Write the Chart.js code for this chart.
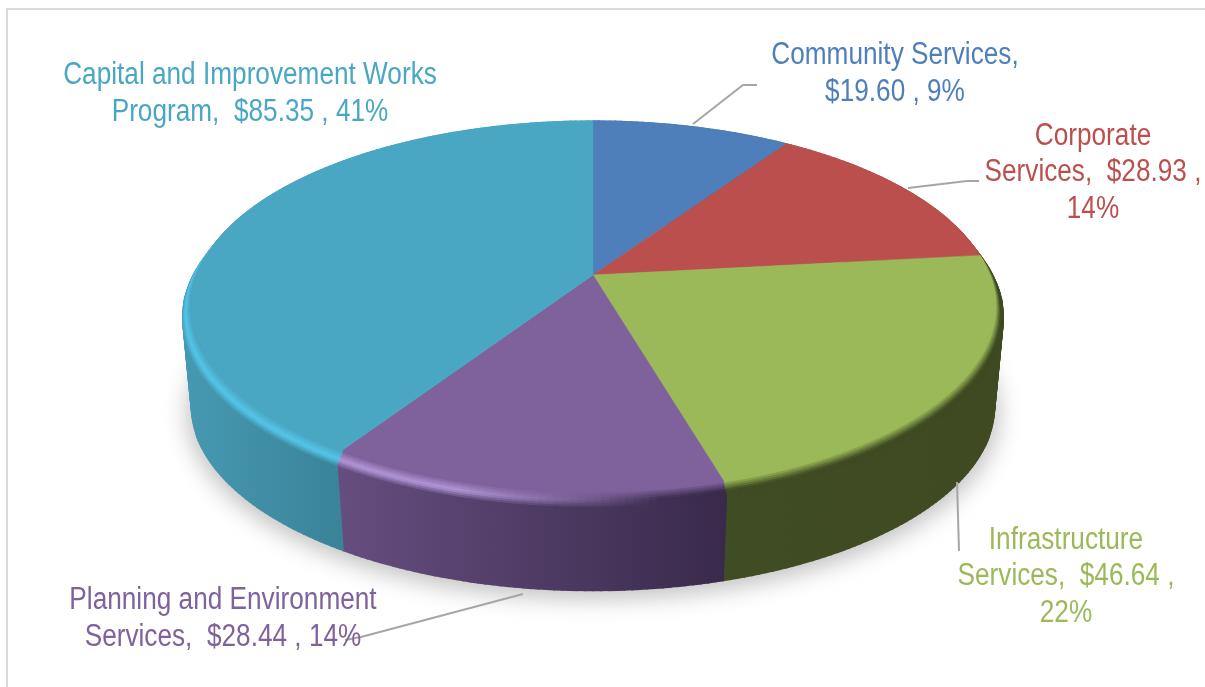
<!DOCTYPE html>
<html>
<head>
<meta charset="utf-8">
<style>
  html, body { margin: 0; padding: 0; background: #fff; overflow: hidden; }
  #frame { position: absolute; left: 6px; top: 8px; width: 1300px; height: 800px; border: 2px solid #d9d9d9; }
  #chart { position: absolute; left: 0; top: 0; }
</style>
<script src="https://cdn.jsdelivr.net/npm/chart.js@4"></script>
</head>
<body>
<div id="frame"></div>
<canvas id="chart" width="1205" height="687"></canvas>
<script>
const categories = ['Community Services', 'Corporate Services', 'Infrastructure Services', 'Planning and Environment Services', 'Capital and Improvement Works Program'];
const values = [19.60, 28.93, 46.64, 28.44, 85.35];
const labelLines = [
  ['Community Services,', '$19.60 , 9%'],
  ['Corporate', 'Services,  $28.93 ,', '14%'],
  ['Infrastructure', 'Services,  $46.64 ,', '22%'],
  ['Planning and Environment', 'Services,  $28.44 , 14%'],
  ['Capital and Improvement Works', 'Program,  $85.35 , 41%']
];
const colors = ['#4e7fba', '#bb4f4d', '#9bb959', '#7f619c', '#4aa7c3'];

// layout of the tilted pie
const CX = 593, CY = 275, RX = 396, RY = 179.5, TILT = 0.165;
const BEVEL_R = 1.021, BEVEL_Z = 11, BOTTOM_Z = 100.5;

// side colour runs left to right across each slice: [x0, colour0, x1, colour1]
const sideShade = [
  [600, '#3f6696', 800, '#3f6696'],
  [800, '#8a3a38', 1000, '#8a3a38'],
  [720, '#404c23', 1000, '#3f4a22'],
  [335, '#664e80', 725, '#392a4b'],
  [185, '#4699b2', 340, '#3a8399']
];
const rimLight = ['#7fb0e8', '#e08a88', '#c4e27e', '#b397d8', '#55c6ea'];

// where each label sits: centre x and the baselines
const labelPos = [
  { x: 895, y: [64, 101] },
  { x: 1093, y: [145, 181, 218] },
  { x: 1066, y: [549, 585, 622] },
  { x: 223, y: [609, 646] },
  { x: 250, y: [84, 121] }
];
const leaders = [
  [[693, 124], [743, 85], [757, 85]],
  [[908, 188], [967, 181], [979, 181]],
  [[957, 482], [959, 551]],
  [[523, 594], [361, 637], [345, 640]]
];

function project(angle, r, z) {
  const u = r * Math.cos(angle), v = r * Math.sin(angle);
  const w = 1 - TILT * v;
  return [CX + RX * u / w, CY + RY * v / w + z];
}

function hex(c) {
  return [1, 3, 5].map(i => parseInt(c.substr(i, 2), 16));
}
function mix(a, b, t) {
  t = Math.max(0, Math.min(1, t));
  const p = hex(a), q = hex(b);
  const out = p.map((x, i) => Math.round(x + (q[i] - x) * t));
  return '#' + out.map(x => x.toString(16).padStart(2, '0')).join('');
}
function sideColor(i, x) {
  const s = sideShade[i];
  return mix(s[1], s[3], (x - s[0]) / (s[2] - s[0]));
}

function band(ctx, a0, a1, r0, z0, r1, z1, color, width) {
  const p = [project(a0, r0, z0), project(a1, r0, z0), project(a1, r1, z1), project(a0, r1, z1)];
  ctx.fillStyle = color;
  ctx.strokeStyle = color;
  ctx.lineWidth = width;
  ctx.beginPath();
  ctx.moveTo(p[0][0], p[0][1]);
  for (let k = 1; k < 4; k++) ctx.lineTo(p[k][0], p[k][1]);
  ctx.closePath();
  ctx.fill();
  ctx.stroke();
}

function drawWall(ctx, arc, i) {
  const s = sideShade[i];
  const grad = ctx.createLinearGradient(s[0], 0, s[2], 0);
  grad.addColorStop(0, s[1]);
  grad.addColorStop(1, s[3]);
  const n = Math.ceil((arc.endAngle - arc.startAngle) * 60);
  const step = (arc.endAngle - arc.startAngle) / n;
  for (let k = 0; k < n; k++) {
    const a0 = arc.startAngle + k * step;
    band(ctx, a0, a0 + step, BEVEL_R, BEVEL_Z, 1, BOTTOM_Z, grad, 1.6);
  }
}

const pie3d = {
  id: 'pie3d',
  beforeDatasetsDraw(chart) {
    const ctx = chart.ctx;
    const arcs = chart.getDatasetMeta(0).data;

    // soft shadow under the disc
    ctx.save();
    ctx.filter = 'blur(11px)';
    ctx.fillStyle = '#c4c4c4';
    ctx.beginPath();
    for (let a = 0; a < 360; a += 3) {
      const p = project(a * Math.PI / 180, 1.012, BOTTOM_Z + 6);
      ctx.lineTo(p[0], p[1]);
    }
    ctx.closePath();
    ctx.fill();
    ctx.restore();

    arcs.forEach((arc, i) => drawWall(ctx, arc, i));

    // rounded rim, outer rings first so the inner ones sit on top
    const steps = 8;
    for (let j = steps - 1; j >= 0; j--) {
      const t = j / steps, t1 = (j + 1) / steps;
      arcs.forEach((arc, i) => {
        const n = Math.ceil((arc.endAngle - arc.startAngle) * 60);
        const step = (arc.endAngle - arc.startAngle) / n;
        for (let s = 0; s < n; s++) {
          const a0 = arc.startAngle + s * step, a1 = a0 + step;
          const x = project(a0 + step / 2, 1, 0)[0];
          const side = sideColor(i, x);
          const crest = mix(side, rimLight[i], (660 - x) / 200);
          const c = t < 0.55 ? mix(colors[i], crest, t / 0.55) : mix(crest, side, (t - 0.55) / 0.45);
          band(ctx, a0, a1, 1 + (BEVEL_R - 1) * t, BEVEL_Z * t, 1 + (BEVEL_R - 1) * t1, BEVEL_Z * t1, c, 1.2);
        }
      });
    }

    // flat top face
    arcs.forEach((arc, i) => {
      ctx.fillStyle = colors[i];
      ctx.strokeStyle = colors[i];
      ctx.lineWidth = 0.5;
      ctx.beginPath();
      ctx.moveTo(CX, CY);
      const n = Math.ceil((arc.endAngle - arc.startAngle) * 60);
      for (let s = 0; s <= n; s++) {
        const p = project(arc.startAngle + (arc.endAngle - arc.startAngle) * s / n, 1, 0);
        ctx.lineTo(p[0], p[1]);
      }
      ctx.closePath();
      ctx.fill();
      ctx.stroke();
    });

    // leader lines
    ctx.strokeStyle = '#a6a6a6';
    ctx.lineWidth = 2;
    leaders.forEach(line => {
      ctx.beginPath();
      line.forEach(p => ctx.lineTo(p[0], p[1]));
      ctx.stroke();
    });

    // labels, squeezed sideways like the original
    ctx.textAlign = 'center';
    ctx.textBaseline = 'alphabetic';
    ctx.font = '31px "Liberation Sans"';
    labelLines.forEach((lines, i) => {
      ctx.fillStyle = colors[i];
      lines.forEach((line, k) => {
        ctx.save();
        ctx.translate(labelPos[i].x, labelPos[i].y[k]);
        ctx.scale(0.845, 1);
        ctx.fillText(line, 0, 0);
        ctx.restore();
      });
    });
    return false;
  }
};

new Chart(document.getElementById('chart'), {
  type: 'pie',
  data: {
    labels: categories,
    datasets: [{ data: values, backgroundColor: colors, borderWidth: 0 }]
  },
  options: {
    responsive: false,
    animation: false,
    devicePixelRatio: 1,
    plugins: { legend: { display: false }, tooltip: { enabled: false } }
  },
  plugins: [pie3d]
});
</script>
</body>
</html>
